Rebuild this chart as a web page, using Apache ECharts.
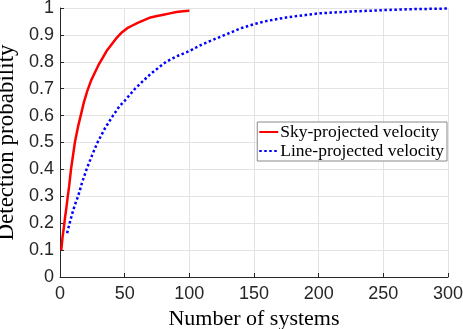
<!DOCTYPE html>
<html lang="en">
<head>
<meta charset="UTF-8" />
<script src="https://cdn.jsdelivr.net/npm/echarts@6/dist/echarts.min.js"></script>
<style>
  html, body { margin: 0; padding: 0; background: #fff; }
  #main { width: 463px; height: 329px; }
</style>
</head>
<body>
<div id="main"></div>
<script>
// data
var skyX = [1, 2, 3, 4, 5, 6, 7, 8.5, 10, 11.5, 14, 16, 18.5, 21, 24, 27, 30, 33, 36, 40, 44, 48, 52, 56, 60, 65, 70, 75, 80, 85, 90, 95, 100];
var skyY = [0.10, 0.15, 0.185, 0.225, 0.26, 0.30, 0.335, 0.40, 0.45, 0.50, 0.56, 0.60, 0.65, 0.69, 0.73, 0.76, 0.79, 0.815, 0.84, 0.865, 0.89, 0.91, 0.925, 0.935, 0.945, 0.955, 0.965, 0.97, 0.975, 0.98, 0.985, 0.988, 0.99];
var lineX = [5.5, 8, 10, 12, 14, 17, 20.5, 25, 29, 35, 41, 46, 50, 58, 70, 82, 90, 100, 110, 120, 130, 140, 150, 160, 175, 200, 225, 250, 275, 300];
var lineY = [0.163, 0.21, 0.245, 0.275, 0.30, 0.35, 0.40, 0.455, 0.50, 0.555, 0.60, 0.635, 0.655, 0.70, 0.755, 0.80, 0.82, 0.84, 0.865, 0.885, 0.905, 0.925, 0.94, 0.952, 0.965, 0.98, 0.987, 0.992, 0.996, 0.998];
var seriesNames = ['Sky-projected velocity', 'Line-projected velocity'];

function pairs(xs, ys) {
  return xs.map(function (x, i) { return [x, ys[i]]; });
}

var chart = echarts.init(document.getElementById('main'));
var axisColor = '#262626';
var gridColor = '#e3e3e3';

chart.setOption({
  animation: false,
  grid: { left: 60, right: 15, top: 8, bottom: 52, containLabel: false, outerBoundsMode: 'none' },
  legend: {
    right: 16, top: 122,
    orient: 'vertical',
    itemWidth: 19, itemHeight: 10, itemGap: 1,
    padding: [1, 3, 1, 1],
    backgroundColor: '#fff',
    borderColor: '#888',
    borderWidth: 1,
    borderRadius: 0,
    itemStyle: { opacity: 0 },
    textStyle: { fontFamily: 'Liberation Serif', fontSize: 17.5, color: '#000', padding: [0, 0, 0, -3] },
    data: seriesNames
  },
  xAxis: {
    type: 'value', min: 0, max: 300, interval: 50,
    name: 'Number of systems', nameLocation: 'middle', nameGap: 29,
    nameTextStyle: { fontFamily: 'Liberation Serif', fontSize: 22, color: '#000' },
    axisLine: { show: true, lineStyle: { color: axisColor, width: 1 } },
    axisTick: { show: true, inside: true, length: 4, lineStyle: { color: axisColor } },
    axisLabel: { fontFamily: 'Liberation Sans', fontSize: 18, color: axisColor, margin: 8 },
    splitLine: { show: true, lineStyle: { color: gridColor } }
  },
  yAxis: {
    type: 'value', min: 0, max: 1, interval: 0.1,
    name: 'Detection probability', nameLocation: 'middle', nameGap: 36,
    nameTextStyle: { fontFamily: 'Liberation Serif', fontSize: 23, color: '#000' },
    axisLine: { show: true, lineStyle: { color: axisColor, width: 1 } },
    axisTick: { show: true, inside: true, length: 4, lineStyle: { color: axisColor } },
    axisLabel: {
      fontFamily: 'Liberation Sans', fontSize: 18, color: axisColor, margin: 6,
      formatter: function (v) { return String(Math.round(v * 10) / 10); }
    },
    splitLine: { show: true, lineStyle: { color: gridColor } }
  },
  series: [
    {
      name: seriesNames[0], type: 'line', showSymbol: false, symbol: 'none',
      data: pairs(skyX, skyY),
      lineStyle: { color: '#ff0000', width: 2.5 },
      itemStyle: { color: '#ff0000' }
    },
    {
      name: seriesNames[1], type: 'line', showSymbol: false, symbol: 'none',
      data: pairs(lineX, lineY),
      lineStyle: { color: '#0000ff', width: 2.5, type: [2.5, 2.5] },
      itemStyle: { color: '#0000ff' }
    }
  ]
});
</script>
</body>
</html>
